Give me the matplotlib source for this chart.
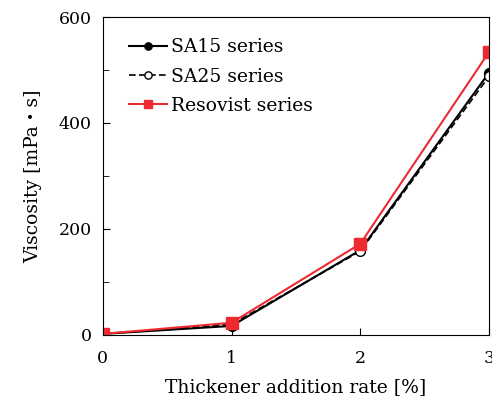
import matplotlib.pyplot as plt
from matplotlib.ticker import MultipleLocator

# Data
rate = [0, 1, 2, 3]
sa15 = [2, 17, 160, 495]
sa25 = [2, 20, 158, 488]
resovist = [2, 23, 172, 534]

plt.rcParams['font.family'] = ['DejaVu Serif', 'Noto Sans CJK JP']

fig = plt.figure(figsize=(4.92, 4.05), dpi=100)
ax = fig.add_axes([0.209, 0.173, 0.785, 0.785])

ax.plot(rate, sa15, '-', color='black', marker='o', markersize=7,
        linewidth=1.5, label='SA15 series')
ax.plot(rate, sa25, '--', color='black', marker='o', markersize=7,
        markerfacecolor='white', linewidth=1.2, dashes=(4, 2),
        label='SA25 series')
ax.plot(rate, resovist, '-', color='#ee2a30', marker='s', markersize=8,
        linewidth=1.5, label='Resovist series')

ax.set_xlim(0, 3)
ax.set_ylim(0, 600)
ax.set_xticks(rate)
ax.yaxis.set_major_locator(MultipleLocator(200))
ax.yaxis.set_minor_locator(MultipleLocator(100))
ax.tick_params(direction='in', which='both', labelsize=12.5, pad=8)
ax.tick_params(axis='x', pad=11)
ax.tick_params(which='major', length=5)
ax.tick_params(which='minor', length=4)

ax.set_xlabel('Thickener addition rate [%]', fontsize=13.5, labelpad=8)
ax.set_ylabel('Viscosity [mPa\u30fbs]', fontsize=13.5, labelpad=12)

ax.legend(loc='upper left', frameon=False, fontsize=13.5, handlelength=2,
          handletextpad=0.2, labelspacing=0.6, markerscale=0.75,
          borderaxespad=0.4, bbox_to_anchor=(0.03, 0.98))

plt.savefig('out.png')
